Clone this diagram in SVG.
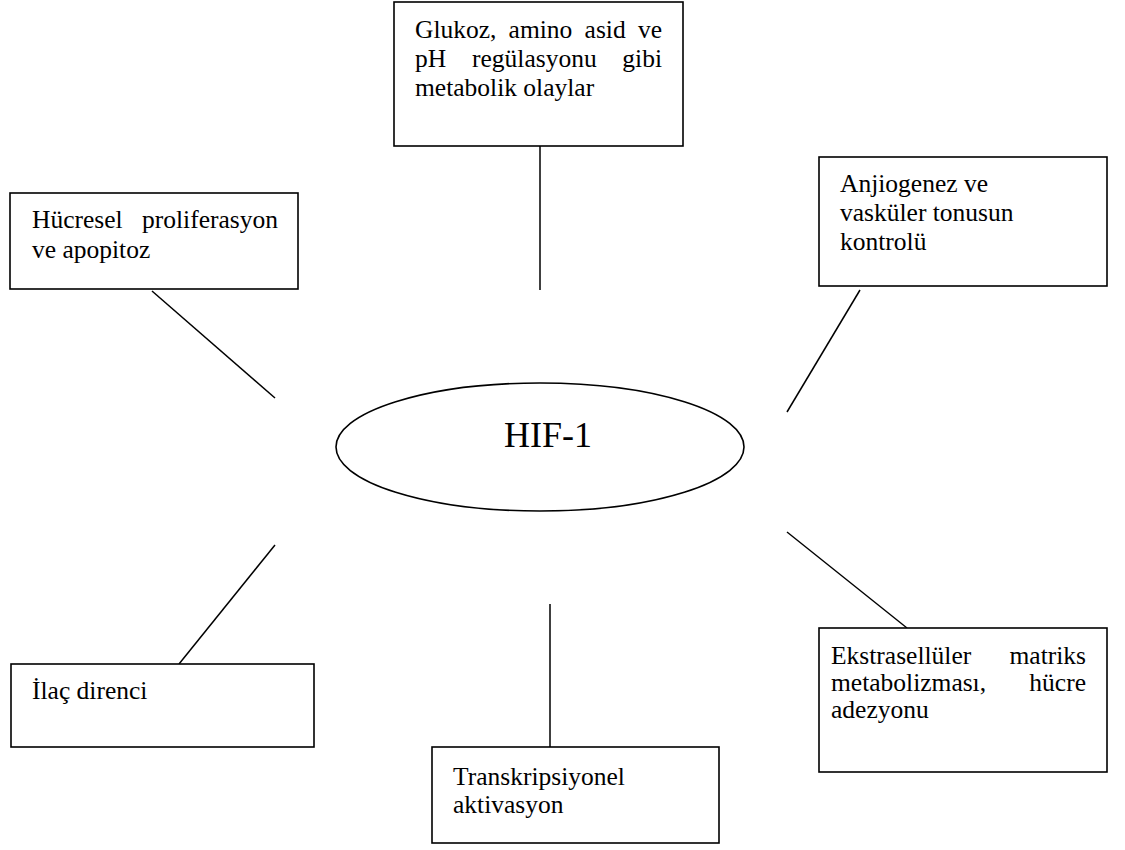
<svg xmlns="http://www.w3.org/2000/svg" width="1125" height="850" viewBox="0 0 1125 850">
<style>
.box{fill:#fff;stroke:#000;stroke-width:1.6}
.t{font-family:"Liberation Serif","Times New Roman",serif;font-size:25.5px;fill:#000}
.c{stroke:#000;stroke-width:1.5;fill:none}
.h{font-family:"Liberation Serif","Times New Roman",serif;font-size:36px;fill:#000}
</style>
<rect width="1125" height="850" fill="#fff"/>
<g id="connectors">
<line class="c" x1="540" y1="146" x2="540" y2="290"/>
<line class="c" x1="152" y1="291" x2="275" y2="398"/>
<line class="c" x1="860" y1="290" x2="787" y2="412"/>
<line class="c" x1="275" y1="545" x2="179" y2="664"/>
<line class="c" x1="550" y1="604" x2="550" y2="747"/>
<line class="c" x1="787" y1="532" x2="907" y2="628"/>
</g>
<g id="hif1">
<ellipse class="box" cx="540" cy="447" rx="204" ry="64"/>
<text class="h" x="548" y="447" text-anchor="middle">HIF-1</text>
</g>
<g id="metabolik">
<rect class="box" x="394" y="2" width="289" height="144"/>
<text class="t" y="38"><tspan x="415">Glukoz,</tspan><tspan x="508.6">amino</tspan><tspan x="584.6">asid</tspan><tspan x="637.9">ve</tspan></text>
<text class="t" y="67"><tspan x="415">pH</tspan><tspan x="472">regülasyonu</tspan></text>
<text class="t" x="662" y="67" text-anchor="end">gibi</text>
<text class="t" x="415" y="96">metabolik olaylar</text>
</g>
<g id="proliferasyon">
<rect class="box" x="10" y="193" width="288" height="96"/>
<text class="t" x="32" y="228">Hücresel</text>
<text class="t" x="278" y="228" text-anchor="end">proliferasyon</text>
<text class="t" x="32" y="258">ve apopitoz</text>
</g>
<g id="anjiogenez">
<rect class="box" x="819" y="157" width="288" height="129"/>
<text class="t" x="840" y="192">Anjiogenez ve</text>
<text class="t" x="840" y="221">vasküler tonusun</text>
<text class="t" x="840" y="250">kontrolü</text>
</g>
<g id="ilac">
<rect class="box" x="11" y="664" width="303" height="83"/>
<text class="t" x="32" y="699">İlaç direnci</text>
</g>
<g id="transkripsiyon">
<rect class="box" x="432" y="747" width="287" height="96"/>
<text class="t" x="453" y="785">Transkripsiyonel</text>
<text class="t" x="453" y="813">aktivasyon</text>
</g>
<g id="ekstrasellular">
<rect class="box" x="819" y="628" width="288" height="144"/>
<text class="t" x="831" y="664">Ekstrasellüler</text>
<text class="t" x="1086" y="664" text-anchor="end">matriks</text>
<text class="t" x="831" y="691">metabolizması,</text>
<text class="t" x="1086" y="691" text-anchor="end">hücre</text>
<text class="t" x="831" y="718">adezyonu</text>
</g>
</svg>
